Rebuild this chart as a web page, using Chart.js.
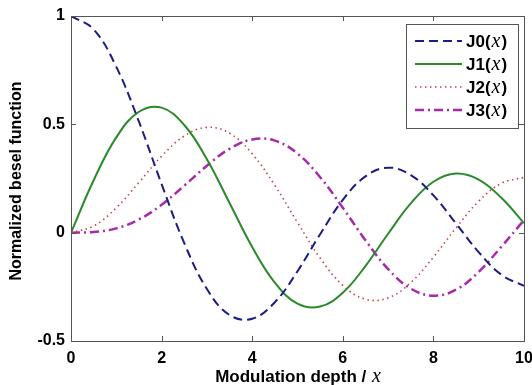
<!DOCTYPE html>
<html>
<head>
<meta charset="utf-8">
<script src="https://cdn.jsdelivr.net/npm/chart.js@4/dist/chart.umd.min.js"></script>
<style>
  html, body { margin: 0; padding: 0; background: #fff; }
  #wrap { width: 532px; height: 385px; }
</style>
</head>
<body>
<div id="wrap"><canvas id="besel_chart" width="532" height="385"></canvas></div>
<script>
// modulation depth x (samples)
const xValues = [0, 0.5, 1, 1.5, 2, 2.5, 3, 3.5, 4, 4.5, 5, 5.5, 6, 6.5, 7, 7.5, 8, 8.5, 9, 9.5, 10];

const j0 = [1, 0.938, 0.765, 0.512, 0.224, -0.048, -0.260, -0.380, -0.397, -0.321, -0.178, -0.007, 0.151, 0.260, 0.300, 0.266, 0.172, 0.042, -0.090, -0.194, -0.246];
const j1 = [0, 0.242, 0.440, 0.558, 0.577, 0.497, 0.339, 0.137, -0.066, -0.231, -0.328, -0.341, -0.277, -0.154, -0.005, 0.135, 0.235, 0.273, 0.245, 0.161, 0.044];
const j2 = [0, 0.031, 0.115, 0.232, 0.353, 0.446, 0.486, 0.459, 0.364, 0.218, 0.047, -0.117, -0.243, -0.307, -0.301, -0.230, -0.113, 0.022, 0.145, 0.228, 0.255];
const j3 = [0, 0.003, 0.020, 0.061, 0.129, 0.217, 0.309, 0.387, 0.430, 0.425, 0.365, 0.256, 0.115, -0.035, -0.168, -0.258, -0.291, -0.263, -0.181, -0.065, 0.058];

const seriesNames = ['J0(', 'J1(', 'J2(', 'J3('];
const xTicks = [0, 2, 4, 6, 8, 10];
const yTicks = [-0.5, 0, 0.5, 1];

const xTitle = 'Modulation depth / ';
const yTitle = 'Normalized besel function';

function points(ys) {
    return ys.map((y, i) => ({ x: xValues[i], y: y }));
}

function make_dataset(label, ys, color, width, dash) {
    return {
        label: label,
        data: points(ys),
        borderColor: color,
        borderWidth: width,
        borderDash: dash,
        pointRadius: 0,
        tension: 0.4,
        fill: false
    };
}

const frameColor = '#555';
const titleFont = 'bold 17px "Liberation Sans", Arial, sans-serif';
const yTitleFont = 'bold 16px "Liberation Sans", Arial, sans-serif';
const mathFont = 'italic 20px "Liberation Serif", "DejaVu Serif", serif';

// frame with inward tick marks on every side, like the matlab box
const framePlugin = {
    id: 'frame',
    afterDatasetsDraw(chart) {
        const ctx = chart.ctx;
        const a = chart.chartArea;
        const xs = chart.scales.x, ys = chart.scales.y;
        ctx.save();
        ctx.strokeStyle = frameColor;
        ctx.lineWidth = 1;
        ctx.strokeRect(a.left + 0.5, a.top + 0.5, a.right - a.left, a.bottom - a.top);
        ctx.beginPath();
        xTicks.forEach(v => {
            const px = Math.round(xs.getPixelForValue(v)) + 0.5;
            ctx.moveTo(px, a.bottom); ctx.lineTo(px, a.bottom - 5);
            ctx.moveTo(px, a.top); ctx.lineTo(px, a.top + 5);
        });
        yTicks.forEach(v => {
            const py = Math.round(ys.getPixelForValue(v)) + 0.5;
            ctx.moveTo(a.left, py); ctx.lineTo(a.left + 5, py);
            ctx.moveTo(a.right, py); ctx.lineTo(a.right - 5, py);
        });
        ctx.stroke();
        ctx.restore();
    }
};

// draws "J0(" + italic x + ")"
function draw_math_label(ctx, prefix, x, y, font) {
    ctx.font = font;
    ctx.fillText(prefix, x, y);
    x += ctx.measureText(prefix).width;
    ctx.font = mathFont;
    ctx.fillText('x', x + 1, y);
    x += ctx.measureText('x').width + 2;
    if (prefix.endsWith('(')) {
        ctx.font = font;
        ctx.fillText(')', x, y);
    }
}

const legendPlugin = {
    id: 'boxlegend',
    afterDraw(chart) {
        const ctx = chart.ctx;
        ctx.save();
        ctx.fillStyle = '#fff';
        ctx.fillRect(406, 24, 112, 104);
        ctx.strokeStyle = frameColor;
        ctx.lineWidth = 1;
        ctx.strokeRect(406.5, 24.5, 112, 104);
        chart.data.datasets.forEach((ds, i) => {
            const y = 41 + i * 23;
            ctx.strokeStyle = ds.borderColor;
            ctx.lineWidth = ds.borderWidth;
            ctx.setLineDash(ds.borderDash);
            ctx.beginPath();
            ctx.moveTo(415, y); ctx.lineTo(462, y);
            ctx.stroke();
            ctx.setLineDash([]);
            ctx.fillStyle = '#000';
            ctx.textBaseline = 'middle';
            ctx.textAlign = 'left';
            draw_math_label(ctx, seriesNames[i], 466, y + 1, titleFont);
        });

        // axis titles
        const a = chart.chartArea;
        ctx.fillStyle = '#000';
        ctx.textBaseline = 'middle';
        ctx.font = titleFont;
        const w1 = ctx.measureText(xTitle).width;
        ctx.font = mathFont;
        const w2 = ctx.measureText('x').width;
        const cx = (a.left + a.right) / 2;
        draw_math_label(ctx, xTitle, cx - (w1 + w2) / 2, 377, titleFont);

        ctx.translate(17, 181);
        ctx.rotate(-Math.PI / 2);
        ctx.textAlign = 'center';
        ctx.font = yTitleFont;
        ctx.fillText(yTitle, 0, 0);
        ctx.restore();
    }
};

const tickFont = { family: '"Liberation Sans", Arial, sans-serif', size: 16, weight: 'bold' };

const config = {
    type: 'line',
    data: {
        datasets: [
            make_dataset('J0(x)', j0, '#1c1c84', 2, [9, 5]),
            make_dataset('J1(x)', j1, '#2a8a2a', 2, []),
            make_dataset('J2(x)', j2, '#c8404a', 1.6, [1.5, 3.5]),
            make_dataset('J3(x)', j3, '#a82aa8', 2.5, [9, 4, 2, 4])
        ]
    },
    options: {
        responsive: false,
        animation: false,
        devicePixelRatio: 1,
        layout: {
            autoPadding: false,
            padding: { top: 16, right: 8, left: 0, bottom: 0 }
        },
        plugins: {
            legend: { display: false },
            tooltip: { enabled: false }
        },
        scales: {
            x: {
                type: 'linear',
                min: 0,
                max: 10,
                afterBuildTicks(s) { s.ticks = xTicks.map(v => ({ value: v })); },
                afterFit(s) { s.height = 44; s.paddingLeft = 0; s.paddingRight = 0; },
                grid: { display: false, drawTicks: false },
                border: { display: false },
                ticks: {
                    maxRotation: 0,
                    padding: 8,
                    color: '#000',
                    font: tickFont,
                    callback: v => String(v)
                }
            },
            y: {
                type: 'linear',
                min: -0.5,
                max: 1,
                afterBuildTicks(s) { s.ticks = yTicks.map(v => ({ value: v })); },
                afterFit(s) { s.width = 71; s.paddingTop = 0; s.paddingBottom = 0; },
                grid: { display: false, drawTicks: false },
                border: { display: false },
                ticks: {
                    padding: 6,
                    color: '#000',
                    font: tickFont,
                    callback: v => String(v)
                }
            }
        }
    },
    plugins: [framePlugin, legendPlugin]
};

const chart = new Chart(document.getElementById('besel_chart'), config);
</script>
</body>
</html>
